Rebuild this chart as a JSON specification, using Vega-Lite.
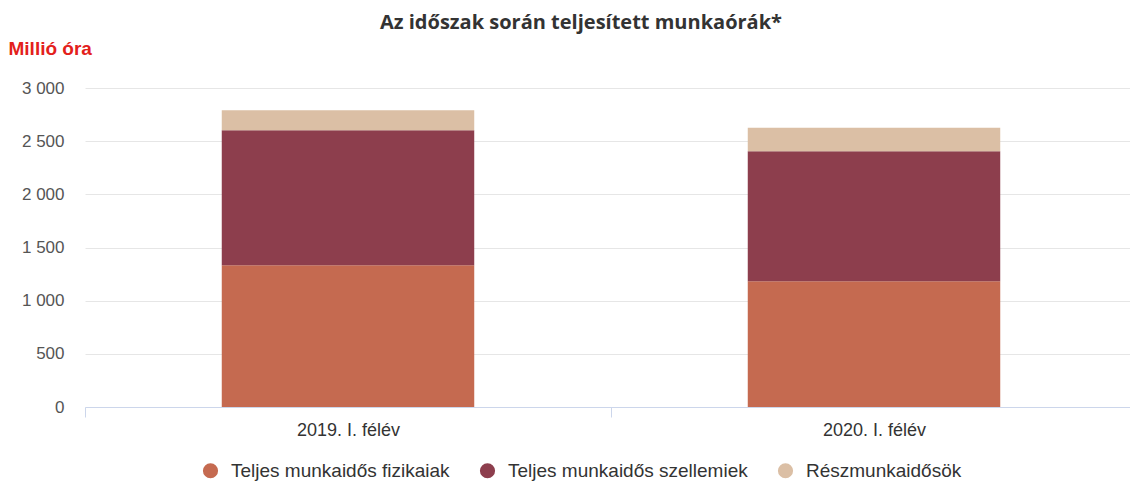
{
  "$schema": "https://vega.github.io/schema/vega-lite/v6.json",
  "autosize": {"type": "none"},
  "padding": {"left": 85, "top": 88, "right": -7, "bottom": 78},
  "width": 1052,
  "height": 319,
  "background": "#ffffff",
  "title": {
    "text": "Az időszak során teljesített munkaórák*",
    "font": "Open Sans",
    "fontSize": 20,
    "fontWeight": "bold",
    "color": "#333333",
    "anchor": "middle",
    "frame": "group",
    "dx": -30,
    "offset": 6
  },
  "data": {
    "values": [
      {"period": "2019. I. félév", "cat": "Teljes munkaidős fizikaiak", "value": 1333},
      {"period": "2019. I. félév", "cat": "Teljes munkaidős szellemiek", "value": 1269},
      {"period": "2019. I. félév", "cat": "Részmunkaidősök", "value": 188},
      {"period": "2020. I. félév", "cat": "Teljes munkaidős fizikaiak", "value": 1182},
      {"period": "2020. I. félév", "cat": "Teljes munkaidős szellemiek", "value": 1223},
      {"period": "2020. I. félév", "cat": "Részmunkaidősök", "value": 222}
    ]
  },
  "transform": [
    {"calculate": "indexof(['Teljes munkaidős fizikaiak','Teljes munkaidős szellemiek','Részmunkaidősök'], datum.cat)", "as": "ord"}
  ],
  "mark": {"type": "bar", "width": {"band": 0.48}},
  "encoding": {
    "x": {
      "field": "period",
      "type": "nominal",
      "scale": {"paddingInner": 0, "paddingOuter": 0},
      "axis": {
        "title": null,
        "labelAngle": 0,
        "tickBand": "extent",
        "labelFont": "Liberation Sans",
        "labelFontSize": 18,
        "labelColor": "#333333",
        "labelPadding": 4,
        "domainColor": "#ccd6eb",
        "tickColor": "#ccd6eb",
        "tickSize": 10,
        "grid": false
      }
    },
    "y": {
      "field": "value",
      "type": "quantitative",
      "stack": "zero",
      "scale": {"domain": [0, 3000]},
      "axis": {
        "values": [0, 500, 1000, 1500, 2000, 2500, 3000],
        "labelExpr": "replace(format(datum.value, ','), ',', ' ')",
        "labelFont": "Liberation Sans",
        "labelFontSize": 17,
        "labelColor": "#555555",
        "labelPadding": 21,
        "ticks": false,
        "domain": false,
        "gridColor": "#e6e6e6",
        "title": "Millió óra",
        "titleAngle": 0,
        "titleAlign": "left",
        "titleBaseline": "middle",
        "titleX": -77,
        "titleY": -40,
        "titleFont": "Liberation Sans",
        "titleFontSize": 19,
        "titleFontWeight": "bold",
        "titleColor": "#e3201b"
      }
    },
    "color": {
      "field": "cat",
      "type": "nominal",
      "sort": ["Teljes munkaidős fizikaiak", "Teljes munkaidős szellemiek", "Részmunkaidősök"],
      "scale": {
        "domain": ["Teljes munkaidős fizikaiak", "Teljes munkaidős szellemiek", "Részmunkaidősök"],
        "range": ["#c56a50", "#8d3e4d", "#dbbfa5"]
      },
      "legend": {
        "title": null,
        "orient": "none",
        "direction": "horizontal",
        "legendX": 116,
        "legendY": 373,
        "symbolType": "circle",
        "symbolSize": 230,
        "symbolStrokeWidth": 0,
        "labelFont": "Liberation Sans",
        "labelFontSize": 19,
        "labelColor": "#333333",
        "labelOffset": 11,
        "labelLimit": 400,
        "columnPadding": 28
      }
    },
    "order": {"field": "ord", "type": "quantitative"}
  },
  "config": {
    "view": {"stroke": null}
  }
}
